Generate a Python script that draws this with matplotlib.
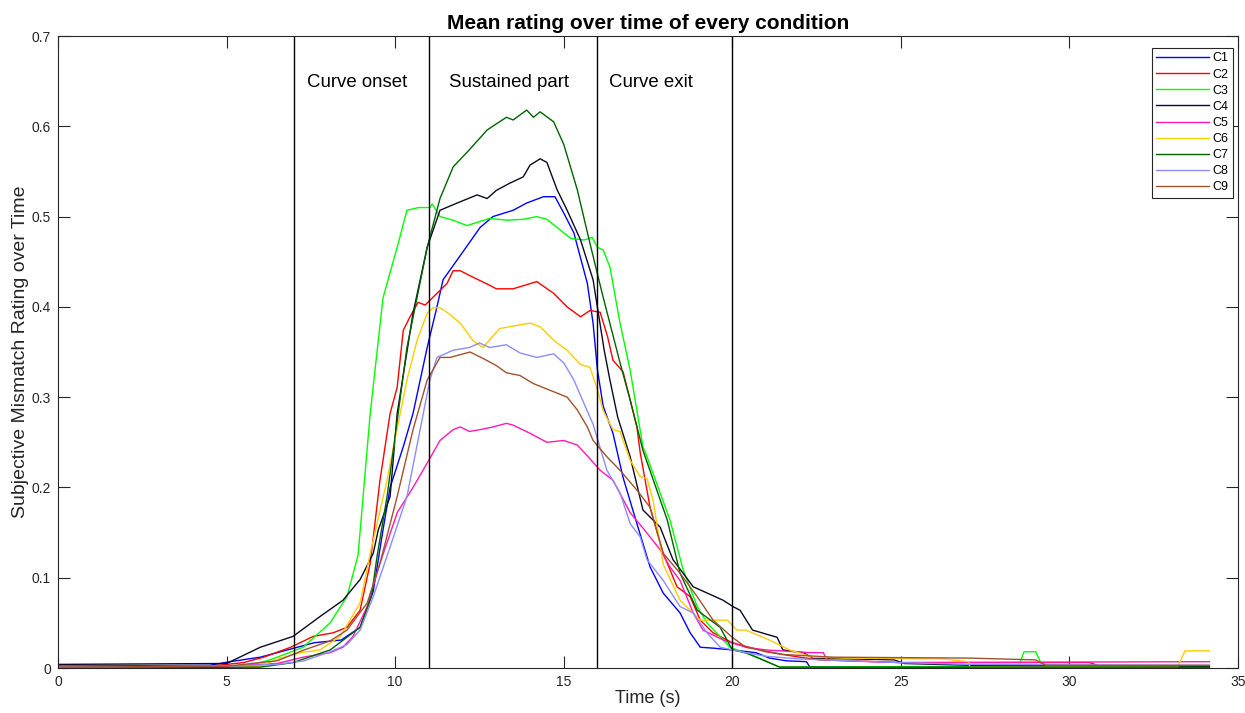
import matplotlib
matplotlib.use("Agg")
from matplotlib import pyplot as plt

plt.rcParams['font.family'] = ['Liberation Sans', 'DejaVu Sans']

# mean rating per condition, (time, value) breakpoints
t_c1 = [0, 4.5, 5.1, 6.0, 7.0, 7.6, 8.4, 8.96, 9.35, 9.64, 9.85, 10.24, 10.53, 10.95, 11.24, 11.42, 11.84, 12.52, 12.9,
        13.5, 13.9, 14.4, 14.74, 15.0, 15.3, 15.7, 15.87, 16.0, 16.17, 16.46, 16.76, 17.17, 17.56, 17.95, 18.45, 18.75,
        19.05, 19.43, 20.0, 20.7, 21.1, 21.6, 22.2, 22.3, 34.15]
v_c1 = [0.002, 0.003, 0.007, 0.012, 0.022, 0.028, 0.031, 0.045, 0.085, 0.153, 0.2, 0.245, 0.282, 0.355, 0.4, 0.43, 0.452,
        0.488, 0.5, 0.507, 0.515, 0.522, 0.522, 0.504, 0.482, 0.426, 0.382, 0.33, 0.29, 0.26, 0.211, 0.16, 0.112, 0.083,
        0.061, 0.039, 0.023, 0.022, 0.02, 0.017, 0.011, 0.008, 0.007, 0.001, 0.001]

t_c2 = [0, 4.5, 5.5, 6.1, 6.9, 7.57, 8.16, 8.57, 8.96, 9.26, 9.55, 9.85, 10.06, 10.24, 10.44, 10.68, 10.89, 11.24, 11.54,
        11.72, 11.93, 12.3, 12.8, 13.0, 13.5, 14.2, 14.7, 15.1, 15.5, 15.78, 16.08, 16.3, 16.46, 16.76, 17.17, 17.27,
        17.56, 17.95, 18.36, 18.75, 19.05, 19.43, 20.0, 21.0, 22.0, 22.6, 25.0, 30.6, 30.9, 34.15]
v_c2 = [0.002, 0.002, 0.006, 0.012, 0.023, 0.035, 0.039, 0.045, 0.064, 0.116, 0.208, 0.282, 0.311, 0.374, 0.389, 0.405,
        0.402, 0.415, 0.426, 0.44, 0.44, 0.433, 0.424, 0.42, 0.42, 0.428, 0.415, 0.4, 0.389, 0.396, 0.394, 0.367, 0.341,
        0.328, 0.267, 0.238, 0.178, 0.127, 0.09, 0.079, 0.053, 0.039, 0.028, 0.018, 0.012, 0.009, 0.006, 0.006, 0.002,
        0.002]

t_c3 = [0, 5.5, 6.2, 6.5, 7.27, 8.07, 8.57, 8.9, 9.26, 9.64, 10.06, 10.35, 10.7, 11.03, 11.1, 11.33, 11.72, 12.13, 12.8,
        13.3, 13.8, 14.2, 14.5, 14.8, 15.2, 15.6, 15.84, 16.0, 16.17, 16.37, 16.67, 16.97, 17.35, 17.47, 18.15, 18.54,
        18.96, 19.25, 19.93, 20.8, 21.4, 28.5, 28.65, 29.0, 29.2, 34.15]
v_c3 = [0.001, 0.002, 0.008, 0.012, 0.023, 0.05, 0.079, 0.125, 0.282, 0.41, 0.466, 0.507, 0.51, 0.51, 0.514, 0.5, 0.496,
        0.49, 0.498, 0.496, 0.497, 0.5, 0.497, 0.488, 0.476, 0.474, 0.477, 0.466, 0.463, 0.444, 0.382, 0.33, 0.245,
        0.234, 0.164, 0.109, 0.068, 0.05, 0.023, 0.011, 0.001, 0.002, 0.018, 0.018, 0.002, 0.002]

t_c4 = [0, 5.0, 6.0, 6.97, 7.77, 8.45, 8.96, 9.35, 9.5, 9.85, 10.06, 10.53, 10.95, 11.33, 11.84, 12.43, 12.73, 13.0,
        13.4, 13.8, 14.0, 14.3, 14.5, 14.8, 15.1, 15.5, 15.87, 16.2, 16.37, 16.6, 16.97, 17.35, 17.86, 18.24, 18.84,
        19.73, 20.02, 20.23, 20.6, 21.33, 21.5, 22.1, 22.4, 24.8, 25.1, 27.1, 34.15]
v_c4 = [0.004, 0.005, 0.023, 0.035, 0.057, 0.075, 0.098, 0.127, 0.153, 0.19, 0.282, 0.393, 0.466, 0.507, 0.515, 0.524,
        0.52, 0.529, 0.537, 0.544, 0.557, 0.564, 0.56, 0.53, 0.507, 0.474, 0.43, 0.352, 0.319, 0.278, 0.234, 0.175,
        0.156, 0.12, 0.09, 0.075, 0.068, 0.064, 0.042, 0.034, 0.02, 0.017, 0.011, 0.009, 0.005, 0.003, 0.002]

t_c5 = [0, 5.0, 6.5, 7.27, 8.07, 8.45, 8.75, 9.17, 9.55, 10.06, 10.53, 10.95, 11.33, 11.72, 11.93, 12.2, 12.52, 12.9,
        13.3, 13.5, 14.0, 14.5, 15.0, 15.4, 15.7, 16.08, 16.46, 16.97, 17.35, 17.86, 18.15, 18.45, 18.84, 19.13, 19.73,
        20.4, 21.0, 22.3, 22.7, 22.8, 25.0, 34.15]
v_c5 = [0.001, 0.002, 0.005, 0.012, 0.017, 0.023, 0.035, 0.068, 0.116, 0.172, 0.2, 0.227, 0.252, 0.264, 0.267, 0.262,
        0.264, 0.267, 0.271, 0.269, 0.26, 0.25, 0.252, 0.247, 0.235, 0.219, 0.208, 0.172, 0.155, 0.131, 0.112, 0.097,
        0.061, 0.042, 0.031, 0.023, 0.02, 0.017, 0.017, 0.009, 0.006, 0.007]

t_c6 = [0, 6.0, 6.6, 7.2, 7.77, 8.37, 8.66, 8.96, 9.26, 9.76, 10.15, 10.35, 10.65, 10.95, 11.12, 11.33, 11.54, 11.93,
        12.3, 12.6, 13.1, 13.7, 14.0, 14.3, 14.7, 15.1, 15.5, 15.78, 16.0, 16.17, 16.46, 16.67, 16.97, 17.27, 17.47,
        17.65, 17.95, 18.45, 19.05, 19.85, 20.14, 20.4, 21.1, 21.7, 22.4, 23.3, 26.25, 27.0, 27.05, 33.2, 33.43, 34.15]
v_c6 = [0.001, 0.002, 0.011, 0.017, 0.02, 0.035, 0.053, 0.072, 0.127, 0.208, 0.282, 0.319, 0.363, 0.393, 0.399, 0.399,
        0.394, 0.382, 0.363, 0.355, 0.376, 0.38, 0.382, 0.378, 0.363, 0.352, 0.336, 0.333, 0.308, 0.285, 0.264, 0.262,
        0.23, 0.212, 0.21, 0.186, 0.115, 0.075, 0.053, 0.053, 0.042, 0.042, 0.031, 0.02, 0.012, 0.011, 0.01, 0.007,
        0.001, 0.001, 0.019, 0.019]

t_c7 = [0, 6.0, 6.97, 8.07, 8.96, 9.3, 9.46, 9.76, 10.35, 10.95, 11.33, 11.72, 12.2, 12.73, 13.3, 13.5, 13.9, 14.1, 14.3,
        14.7, 15.0, 15.4, 15.78, 16.14, 16.67, 16.97, 17.35, 18.07, 18.45, 18.96, 19.64, 20.0, 20.4, 20.9, 21.4, 34.15]
v_c7 = [0.0, 0.001, 0.006, 0.02, 0.045, 0.08, 0.123, 0.19, 0.355, 0.466, 0.52, 0.555, 0.574, 0.596, 0.61, 0.607, 0.618,
        0.61, 0.616, 0.605, 0.58, 0.53, 0.47, 0.415, 0.338, 0.297, 0.241, 0.164, 0.105, 0.064, 0.045, 0.02, 0.017,
        0.009, 0.001, 0.001]

t_c8 = [0, 5.0, 6.5, 7.3, 8.07, 8.57, 8.96, 9.35, 9.85, 10.35, 10.74, 11.03, 11.24, 11.72, 12.2, 12.5, 12.8, 13.3, 13.7,
        14.2, 14.7, 15.0, 15.3, 15.6, 15.87, 16.28, 16.67, 16.97, 17.27, 17.47, 17.95, 18.45, 18.84, 19.25, 19.64, 20.4,
        21.0, 22.0, 25.0, 27.0, 34.15]
v_c8 = [0.001, 0.002, 0.004, 0.008, 0.018, 0.026, 0.042, 0.079, 0.134, 0.19, 0.264, 0.319, 0.344, 0.352, 0.355, 0.36,
        0.355, 0.358, 0.349, 0.344, 0.348, 0.338, 0.319, 0.293, 0.27, 0.219, 0.194, 0.16, 0.145, 0.12, 0.097, 0.068,
        0.061, 0.039, 0.023, 0.017, 0.013, 0.01, 0.006, 0.004, 0.003]

t_c9 = [0, 5.0, 6.5, 7.3, 8.07, 8.57, 9.17, 9.55, 10.06, 10.53, 10.95, 11.33, 11.63, 12.22, 12.6, 13.0, 13.3, 13.7, 14.1,
        14.7, 15.1, 15.4, 15.7, 15.87, 16.28, 16.67, 17.17, 17.56, 17.95, 18.45, 18.96, 19.43, 20.0, 20.4, 21.5, 23.0,
        27.0, 29.0, 29.3, 34.15]
v_c9 = [0.001, 0.002, 0.008, 0.02, 0.03, 0.042, 0.072, 0.116, 0.19, 0.264, 0.319, 0.344, 0.344, 0.35, 0.343, 0.335,
        0.327, 0.324, 0.315, 0.306, 0.3, 0.286, 0.267, 0.252, 0.234, 0.219, 0.197, 0.178, 0.127, 0.105, 0.079, 0.053,
        0.034, 0.023, 0.015, 0.012, 0.011, 0.009, 0.003, 0.003]

names = ['C1', 'C2', 'C3', 'C4', 'C5', 'C6', 'C7', 'C8', 'C9']
colors = ['#0000ff', '#ff0000', '#00ff00', '#0a0a28', '#ff19b4', '#ffcc00', '#006400', '#8c8cff', '#a0522d']
series = [(t_c1, v_c1), (t_c2, v_c2), (t_c3, v_c3), (t_c4, v_c4), (t_c5, v_c5),
          (t_c6, v_c6), (t_c7, v_c7), (t_c8, v_c8), (t_c9, v_c9)]

phase_bounds = [7, 11, 16, 20]
phase_labels = ['Curve onset', 'Sustained part', 'Curve exit']
phase_centers = [8.87, 13.38, 17.6]

fig = plt.figure(figsize=(12.45, 7.13), dpi=100)
ax = fig.add_axes([0.0466, 0.0631, 0.9478, 0.8864])

for (t, v), name, c in zip(series, names, colors):
    ax.plot(t, v, color=c, lw=1.0, label=name)

for b in phase_bounds:
    ax.axvline(b, color='black', lw=1.0)
for x, lab in zip(phase_centers, phase_labels):
    ax.text(x, 0.649, lab, ha='center', va='center', fontsize=13.4, color='black')

ax.set_xlim(0, 35)
ax.set_ylim(0, 0.7)
ax.set_xticks(range(0, 36, 5))
ax.set_yticks([0, 0.1, 0.2, 0.3, 0.4, 0.5, 0.6, 0.7])
ax.set_yticklabels(['0', '0.1', '0.2', '0.3', '0.4', '0.5', '0.6', '0.7'])
ax.tick_params(direction='in', top=True, right=True, length=8.5, width=0.8,
               colors='#262626', labelsize=10, pad=5)
for s in ax.spines.values():
    s.set_color('#262626')
    s.set_linewidth(0.8)

ax.set_xlabel('Time (s)', fontsize=13, color='#262626', labelpad=1)
ax.set_ylabel('Subjective Mismatch Rating over Time', fontsize=14, color='#262626', labelpad=2)
ax.set_title('Mean rating over time of every condition', fontsize=15, fontweight='bold', pad=5)

leg = ax.legend(loc='upper right', bbox_to_anchor=(0.9958, 0.981), fontsize=9, fancybox=False,
                framealpha=1, edgecolor='#262626', handlelength=4.2, labelspacing=0.33,
                borderpad=0.35, handletextpad=0.3, borderaxespad=0)
leg.get_frame().set_linewidth(0.8)

plt.savefig('out.png', dpi=100)
